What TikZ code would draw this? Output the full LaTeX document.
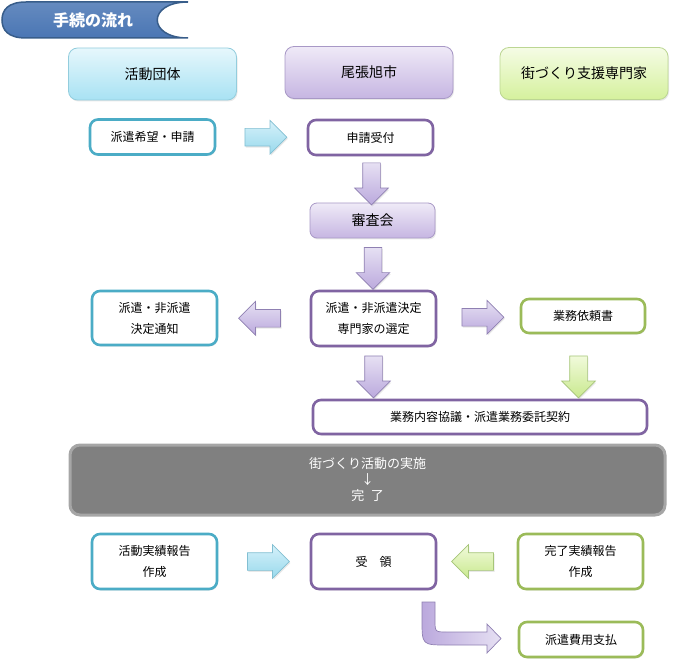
\documentclass[tikz,border=0pt]{standalone}
\usepackage{fontspec}
\setmainfont{Noto Sans CJK JP}
\usetikzlibrary{shapes.arrows,shadows,calc}

\definecolor{aqualine}{HTML}{4BACC6}
\definecolor{purpleline}{HTML}{8064A2}
\definecolor{greenline}{HTML}{9BBB59}
\definecolor{aquatop}{HTML}{E6F7FC}
\definecolor{aquabot}{HTML}{A8E2F3}
\definecolor{aquaedge}{HTML}{93CDDD}
\definecolor{purpletop}{HTML}{EFEAF7}
\definecolor{purplebot}{HTML}{C6B6E2}
\definecolor{purpleedge}{HTML}{A898C6}
\definecolor{greentop}{HTML}{F5FCE5}
\definecolor{greenbot}{HTML}{D5F19D}
\definecolor{greenedge}{HTML}{BCD693}
% block arrow colours
\definecolor{aquaatop}{HTML}{D6F1FA}
\definecolor{aquaabot}{HTML}{98D9EC}
\definecolor{aquaaedge}{HTML}{82BFD2}
\definecolor{purpleatop}{HTML}{E6E0F3}
\definecolor{purpleabot}{HTML}{BBA9DD}
\definecolor{purpleaedge}{HTML}{8F80B2}
\definecolor{greenatop}{HTML}{F1FADB}
\definecolor{greenabot}{HTML}{C9E98E}
\definecolor{greenaedge}{HTML}{A6C579}
\definecolor{titlefill}{HTML}{4A76B4}
\definecolor{titleline}{HTML}{385D8A}

\begin{document}
\begin{tikzpicture}[x=1pt,y=-1pt,
    every node/.style={font=\fontsize{12}{21}\selectfont, align=center},
    softshadow/.style={drop shadow={opacity=.18,shadow xshift=1pt,shadow yshift=-1.5pt}},
    headbox/.style={draw=#1edge, line width=.8pt, rounded corners=9pt,
        top color=#1top, bottom color=#1bot, minimum width=168pt,
        minimum height=52pt, font=\fontsize{14}{17}\selectfont, softshadow},
    outbox/.style={draw=#1line, line width=2.6pt, rounded corners=8pt, fill=white,
        minimum width=125pt, minimum height=35pt, softshadow},
    blockarrow/.style={single arrow, draw=#1aedge, line width=.7pt,
        top color=#1atop, bottom color=#1abot, minimum height=42pt,
        inner sep=8.5pt, single arrow head extend=8pt,
        single arrow tip angle=90, softshadow}]
    \useasboundingbox (0,0) rectangle (675,663);

    % title
    \shade[draw=titleline, line width=1.5pt, top color=titlefill!85!white, bottom color=titlefill]
        (26,2) -- (188,2) .. controls (147,2) and (147,38) .. (188,38) -- (26,38)
        .. controls (8,38) and (2,30) .. (2,20) .. controls (2,10) and (8,2) .. (26,2) -- cycle;
    \node[font=\fontsize{16}{18}\selectfont\bfseries, text=white] (title) at (93,20) {手続の流れ};

    % headers
    \node[headbox=aqua] (dantai) at (152.5,74) {活動団体};
    \node[headbox=purple] (shi) at (369,72.5) {尾張旭市};
    \node[headbox=green] (senmonka) at (584,73.5) {街づくり支援専門家};

    % boxes
    \node[outbox=aqua] (kibou) at (152.5,137) {派遣希望・申請};
    \node[outbox=purple] (uketsuke) at (370.5,137.5) {申請受付};
    \node[headbox=purple, minimum width=125pt, minimum height=35pt,
        rounded corners=7pt] (shinsa) at (372.5,220.5) {審査会};
    \node[outbox=aqua, minimum height=54pt] (tsuchi) at (154.5,318) {派遣・非派遣\\決定通知};
    \node[outbox=purple, minimum height=55pt] (kettei) at (373.5,318.5) {派遣・非派遣決定\\専門家の選定};
    \node[outbox=green, minimum width=124pt, minimum height=34pt] (irai) at (583,316) {業務依頼書};
    \node[outbox=purple, minimum width=334pt, minimum height=34pt] (keiyaku) at (480,417) {業務内容協議・派遣業務委託契約};
    \node[draw=black!35, line width=3pt, fill=black!50, rounded corners=10pt,
        minimum width=595pt, minimum height=70pt, text=white,
        font=\fontsize{13}{16}\selectfont] (jisshi) at (367.5,480)
        {街づくり活動の実施\\↓\\完\hspace{.5em}了};
    \node[outbox=aqua, minimum height=55pt] (hokoku) at (154.5,561.5) {活動実績報告\\作成};
    \node[outbox=purple, minimum height=55pt] (juryo) at (373.5,561.5) {受　領};
    \node[outbox=green, minimum height=55pt] (kanryo) at (580.5,561.5) {完了実績報告\\作成};
    \node[outbox=green, minimum width=124pt] (shiharai) at (581,639.5) {派遣費用支払};

    % block arrows
    \node[blockarrow=aqua] (a1) at ($(kibou.east)!.5!(uketsuke.west)$) {};
    \node[blockarrow=purple, shape border rotate=270] (a2) at ($(uketsuke.south)!.5!(shinsa.north)$) {};
    \node[blockarrow=purple, shape border rotate=270] (a3) at ($(shinsa.south)!.5!(kettei.north)$) {};
    \node[blockarrow=purple, shape border rotate=180] (a4) at ($(tsuchi.east)!.5!(kettei.west)$) {};
    \node[blockarrow=purple] (a5) at ($(kettei.east)!.5!(irai.west)$) {};
    \node[blockarrow=purple, shape border rotate=270] (a6) at (kettei.center |- 0,372.5) {};
    \node[blockarrow=green, shape border rotate=270] (a7) at (578.5,372.5) {};
    \node[blockarrow=aqua] (a8) at ($(hokoku.east)!.5!(juryo.west)$) {};
    \node[blockarrow=green, shape border rotate=180] (a9) at ($(juryo.east)!.5!(kanryo.west)$) {};

    % bent arrow
    \shade[draw=purpleaedge, line width=.7pt, left color=purpleabot, right color=purpleatop]
        (422,602) -- (422,620) .. controls (422,645) .. (447,645) -- (487,645)
        -- (487,653) -- (501,638.5) -- (487,624) -- (487,632) -- (447,632)
        .. controls (435,632) .. (435,620) -- (435,602) -- cycle;
\end{tikzpicture}
\end{document}
